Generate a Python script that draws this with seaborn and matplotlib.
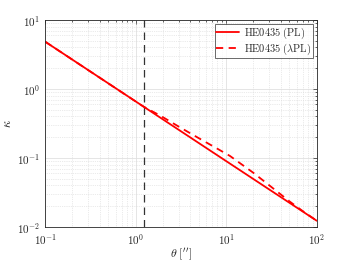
import numpy as np
import pandas as pd
import matplotlib
matplotlib.use("Agg")
import matplotlib.pyplot as plt
import matplotlib.ticker as mticker
import seaborn as sns

# values
theta_pl = [0.1, 1.0, 10.0, 100.0]
kappa_pl = [4.85, 0.66, 0.090, 0.0123]

theta_lpl = [0.1, 0.3, 1.0, 1.22, 1.9, 3.0, 5.0, 8.0, 11.0, 20.0, 30.0, 50.0, 70.0, 100.0]
kappa_lpl = [4.85, 1.87, 0.66, 0.556, 0.406, 0.284, 0.193, 0.136, 0.107, 0.0608, 0.040, 0.0235, 0.0170, 0.0123]

theta_e = 1.22

sns.set_style("white")
plt.rcParams["mathtext.fontset"] = "cm"
plt.rcParams["font.family"] = ["DejaVu Sans"]

df = pd.concat([
    pd.DataFrame({"theta": theta_pl, "kappa": kappa_pl, "model": "PL"}),
    pd.DataFrame({"theta": theta_lpl, "kappa": kappa_lpl, "model": "LPL"}),
])

fig = plt.figure(figsize=(3.5, 2.63), dpi=100)
ax = fig.add_axes([0.129, 0.137, 0.776, 0.787])

ax.set_xscale("log")
ax.set_yscale("log")
ax.set_xlim(0.1, 100)
ax.set_ylim(0.01, 10)

ax.grid(True, which="major", color="#e0e0e0", lw=0.6)
ax.grid(True, which="minor", color="#d6d6d6", lw=0.5, ls=":")
ax.set_axisbelow(True)

ax.axvline(theta_e, color="#333333", ls=(0, (6, 4)), lw=0.9)

sns.lineplot(data=df[df.model == "PL"], x="theta", y="kappa", ax=ax,
             color="#ff0000", lw=1.3, label=r"$\mathrm{HE0435\ (PL)}$")
sns.lineplot(data=df[df.model == "LPL"], x="theta", y="kappa", ax=ax,
             color="#ff0000", lw=1.3, ls=(0, (4, 3)),
             label=r"$\mathrm{HE0435\ (\lambda PL)}$")

fmt = mticker.FuncFormatter(lambda v, p: r"$\mathsf{10^{%d}}$" % round(np.log10(v)))
ax.xaxis.set_major_formatter(fmt)
ax.yaxis.set_major_formatter(fmt)

for s in ax.spines.values():
    s.set_color("#262626")
    s.set_linewidth(0.6)
ax.tick_params(which="both", direction="in", top=True, right=True,
               colors="#262626", labelsize=8, width=0.5)
ax.tick_params(which="major", length=3)
ax.tick_params(which="minor", length=1.6)

ax.set_xlabel(r"$\theta\ [^{\prime\prime}]$", fontsize=8.5, labelpad=-1)
ax.set_ylabel(r"$\kappa$", fontsize=9, labelpad=2)

leg = ax.legend(loc="upper right", fontsize=7.5, frameon=True, fancybox=False,
                edgecolor="#262626", handlelength=2.2, borderpad=0.15,
                labelspacing=0.05, handletextpad=0.4, borderaxespad=0.4)
leg.get_frame().set_linewidth(0.6)

fig.savefig("out.png", dpi=100)
